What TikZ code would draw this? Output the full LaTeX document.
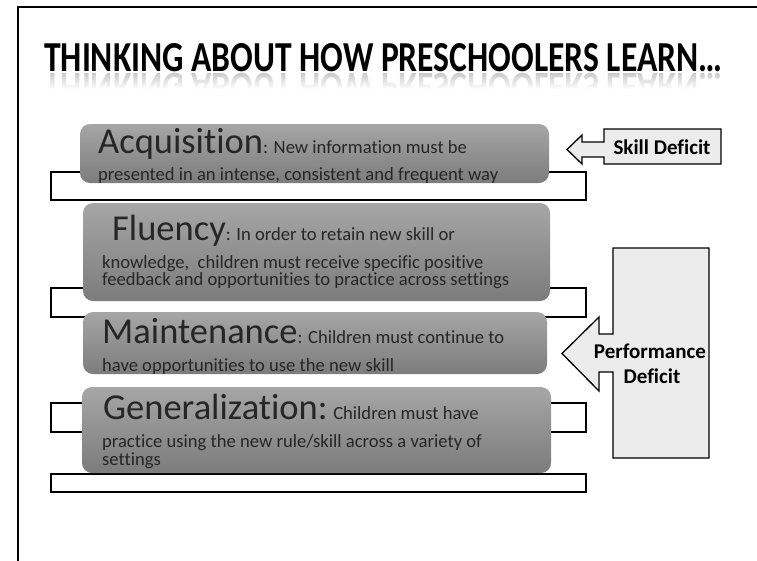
\documentclass[tikz,border=0pt]{standalone}
\usepackage{fontspec}
\setmainfont{Carlito}[Ligatures={NoCommon}]
\usetikzlibrary{fadings}
\definecolor{boxtop}{HTML}{A6A6A6}
\definecolor{boxbot}{HTML}{7C7C7C}
\definecolor{txt}{HTML}{262626}
\definecolor{callfill}{HTML}{ECECEC}
\tikzset{
  bar/.style={draw=black, line width=1.3pt, fill=white},
  stagebox/.style={rounded corners=10pt, top color=boxtop, bottom color=boxbot},
  small/.style={anchor=base west, inner sep=0pt, text=txt, font=\fontsize{18.6}{18.6}\selectfont},
  callout/.style={draw=black, line width=1.3pt, fill=callfill, line join=miter},
  calltext/.style={anchor=base, inner sep=0pt, font=\fontsize{21}{21}\selectfont\bfseries},
}
\newcommand{\bigword}[1]{{\fontsize{36.5}{36.5}\selectfont #1}}
\newcommand{\titletext}{\resizebox{678pt}{28pt}{\bfseries THINKING ABOUT HOW PRESCHOOLERS LEARN…}}
\begin{document}
\begin{tikzpicture}[x=1pt,y=-1pt]
\useasboundingbox (0,0) rectangle (757,560);
% frame
\draw[line width=2pt] (18,580) -- (18,7) -- (780,7);
% title
\node[anchor=base west, inner sep=0pt] (title) at (44,71) {\titletext};
\begin{scope}
  \clip (30,72) rectangle (740,88);
  \node[anchor=base west, inner sep=0pt, text=black!22] (titlerefl) at (44,73) {\scalebox{1}[-1]{\titletext}};
\end{scope}
\fill[white, path fading=north] (30,72) rectangle (740,89);
% background bars
\path[bar] (51,172) rectangle (586,200);
\path[bar] (51,288) rectangle (586,317);
\path[bar] (51,403) rectangle (586,432);
\path[bar] (51,474) rectangle (586,492);
% stage boxes
\path[stagebox] (80,124) rectangle (549,183);
\path[stagebox] (83,203) rectangle (550,301);
\path[stagebox] (83,312) rectangle (547,374);
\path[stagebox] (82,387) rectangle (551,473);
% texts
\node[small] (acq1) at (98,153) {\bigword{Acquisition}: New information must be};
\node[small] (acq2) at (98,180) {presented in an intense, consistent and frequent way};
\node[small] (flu1) at (112,240) {\bigword{Fluency}: In order to retain new skill or};
\node[small] (flu2) at (102,268) {knowledge,~ children must receive specific positive};
\node[small] (flu3) at (102,285) {feedback and opportunities to practice across settings};
\node[small] (mai1) at (102,343) {\bigword{Maintenance}: Children must continue to};
\node[small] (mai2) at (102,371) {have opportunities to use the new skill};
\node[small] (gen1) at (103,419) {\bigword{Generalization:} Children must have};
\node[small] (gen2) at (102,447) {practice using the new rule/skill across a variety of};
\node[small] (gen3) at (102,465) {settings};
% skill deficit callout
\path[callout] (604,129) -- (721,129) -- (721,164) -- (604,164) -- (604,157) -- (582,157)
  -- (582,164) -- (567,149.5) -- (582,135) -- (582,142) -- (604,142) -- cycle;
\node[calltext] (skill) at (662,154) {Skill Deficit};
% performance deficit callout
\path[callout] (613,248) -- (709,248) -- (709,458) -- (613,458) -- (613,372) -- (599,372)
  -- (599,391) -- (562,353.5) -- (599,317) -- (599,334) -- (613,334) -- cycle;
\node[calltext] (perf1) at (650,358) {Performance};
\node[calltext] (perf2) at (652,383) {Deficit};
\end{tikzpicture}
\end{document}
